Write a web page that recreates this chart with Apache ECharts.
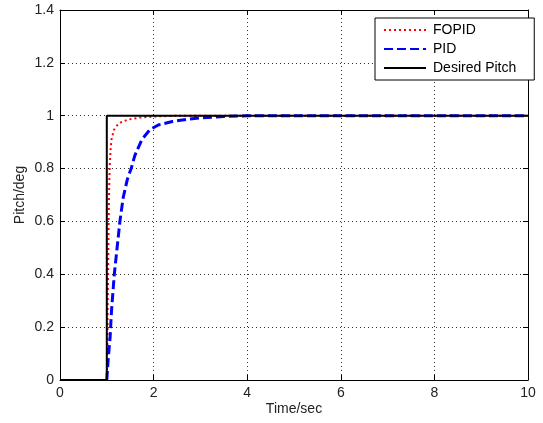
<!DOCTYPE html>
<html>
<head>
<meta charset="utf-8">
<script src="https://cdn.jsdelivr.net/npm/echarts@6/dist/echarts.min.js"></script>
<style>
  html, body { margin: 0; padding: 0; background: #fff; }
  #chart { width: 543px; height: 423px; }
</style>
</head>
<body>
<div id="chart"></div>
<script>
// values
const fopidT = [1.0, 1.01, 1.02, 1.03, 1.04, 1.05, 1.06, 1.08, 1.1, 1.15, 1.2, 1.3, 1.45, 1.7, 2.0, 2.5, 10];
const fopidY = [0, 0.1, 0.3, 0.45, 0.6, 0.72, 0.8, 0.87, 0.91, 0.945, 0.96, 0.975, 0.985, 0.993, 0.997, 1.0, 1.0];

const pidT = [1.0, 1.03, 1.07, 1.1, 1.16, 1.22, 1.28, 1.35, 1.44, 1.52, 1.6, 1.75, 1.92, 2.1, 2.4, 2.7, 3.0, 3.5, 4.0, 10];
const pidY = [0, 0.08, 0.16, 0.26, 0.4, 0.5, 0.6, 0.69, 0.76, 0.8, 0.85, 0.91, 0.947, 0.965, 0.978, 0.986, 0.992, 0.997, 1.0, 1.0];

const desiredT = [0, 1, 1, 10];
const desiredY = [0, 0, 1, 1];

const seriesNames = ['FOPID', 'PID', 'Desired Pitch'];

const zip = (xs, ys) => xs.map((x, i) => [x, ys[i]]);

const font = 'Liberation Sans, Arial, sans-serif';
const chart = echarts.init(document.getElementById('chart'));

const splitStyle = { show: true, lineStyle: { color: '#333', type: [1, 3], width: 1 } };
const lineAx = { show: true, onZero: false, lineStyle: { color: '#000', width: 1 } };
const tickIn = { show: true, inside: true, length: 5, lineStyle: { color: '#000' } };

chart.setOption({
  animation: false,
  backgroundColor: '#fff',
  grid: { left: 60, right: 15, top: 10, bottom: 43, containLabel: false },
  legend: {
    data: seriesNames,
    orient: 'vertical',
    left: 375,
    top: 18,
    align: 'left',
    itemWidth: 42,
    itemHeight: 14,
    itemGap: 5,
    padding: [5, 18, 5, 8],
    backgroundColor: '#fff',
    borderColor: '#000',
    borderWidth: 1,
    borderRadius: 0,
    itemStyle: { opacity: 0 },
    textStyle: { fontFamily: font, fontSize: 14, color: '#000', padding: [0, 0, 0, 2] }
  },
  xAxis: [
    {
      type: 'value', min: 0, max: 10, interval: 2,
      name: 'Time/sec', nameLocation: 'middle', nameGap: 22, nameMoveOverlap: false,
      nameTextStyle: { fontFamily: font, fontSize: 14, color: '#222' },
      axisLine: lineAx, axisTick: tickIn, splitLine: splitStyle,
      axisLabel: { fontFamily: font, fontSize: 14, color: '#222', margin: 6 }
    },
    {
      type: 'value', min: 0, max: 10, interval: 2, position: 'top',
      axisLine: lineAx, axisTick: tickIn, splitLine: { show: false },
      axisLabel: { show: false }
    }
  ],
  yAxis: [
    {
      type: 'value', min: 0, max: 1.4, interval: 0.2,
      name: 'Pitch/deg', nameLocation: 'middle', nameGap: 33, nameRotate: 90, nameMoveOverlap: false,
      nameTextStyle: { fontFamily: font, fontSize: 14, color: '#222' },
      axisLine: lineAx, axisTick: tickIn, splitLine: splitStyle,
      axisLabel: { fontFamily: font, fontSize: 14, color: '#222', margin: 6,
        formatter: v => String(Math.round(v * 10) / 10) }
    },
    {
      type: 'value', min: 0, max: 1.4, interval: 0.2, position: 'right',
      axisLine: lineAx, axisTick: tickIn, splitLine: { show: false },
      axisLabel: { show: false }
    }
  ],
  series: [
    {
      name: seriesNames[0], type: 'line', showSymbol: false, symbol: 'none',
      data: zip(fopidT, fopidY),
      lineStyle: { color: '#ff0000', width: 2, type: [2, 3] },
      itemStyle: { color: '#ff0000' }
    },
    {
      name: seriesNames[1], type: 'line', showSymbol: false, symbol: 'none',
      data: zip(pidT, pidY),
      lineStyle: { color: '#0000ff', width: 3, type: [9, 4] },
      itemStyle: { color: '#0000ff' }
    },
    {
      name: seriesNames[2], type: 'line', showSymbol: false, symbol: 'none',
      data: zip(desiredT, desiredY),
      lineStyle: { color: '#000', width: 2 },
      itemStyle: { color: '#000' }
    }
  ]
});
</script>
</body>
</html>
